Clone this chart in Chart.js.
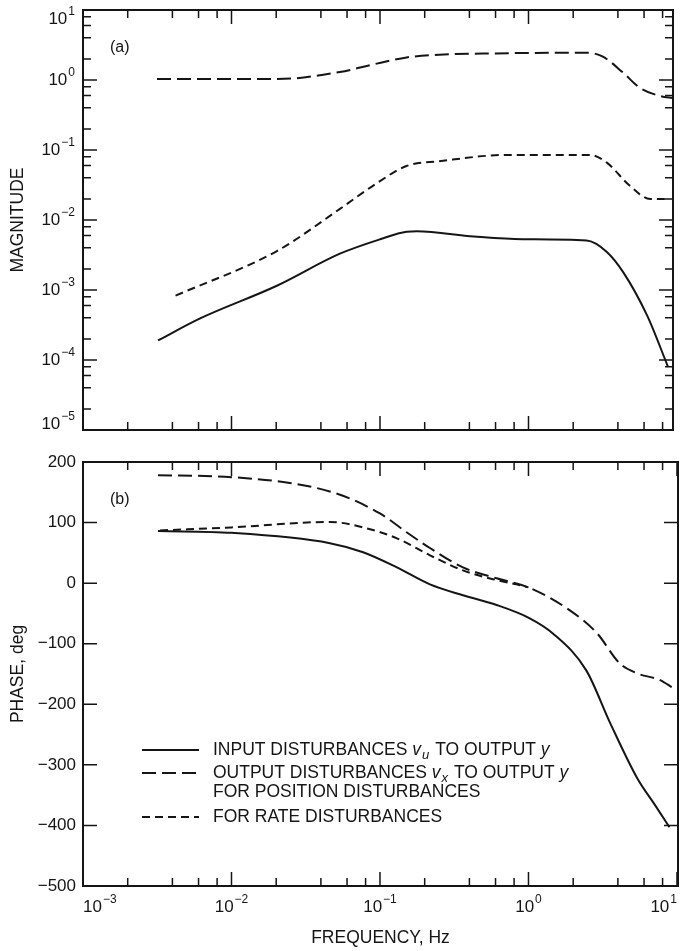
<!DOCTYPE html>
<html>
<head>
<meta charset="utf-8">
<script src="https://cdn.jsdelivr.net/npm/chart.js@4/dist/chart.umd.min.js"></script>
<style>
  body { margin: 0; background: #fff; }
  #wrap { position: relative; width: 681px; height: 951px; background: #fff; }
  #magBox { position: absolute; left: 0; top: 0; width: 681px; height: 440px; }
  #phaseBox { position: absolute; left: 0; top: 440px; width: 681px; height: 511px; }
</style>
</head>
<body>
<div id="wrap">
  <div id="magBox"><canvas id="magChart"></canvas></div>
  <div id="phaseBox"><canvas id="phaseChart"></canvas></div>
</div>
<script>
// axis ticks (decade labels are written as 10 with a raised exponent)
const freqDecades = [1e-3, 1e-2, 1e-1, 1, 10];
const freqExponents = ['\u22123', '\u22122', '\u22121', '0', '1'];
const magDecades = [1e-5, 1e-4, 1e-3, 1e-2, 1e-1, 1, 10];
const magExponents = ['\u22125', '\u22124', '\u22123', '\u22122', '\u22121', '0', '1'];
const minorSteps = [2, 4, 6, 8];
const phaseTicks = [-500, -400, -300, -200, -100, 0, 100, 200];

// (a) magnitude
const magFreqInput = [0.0032, 0.0061, 0.0202, 0.0537, 0.1, 0.151, 0.177, 0.43, 0.91, 2.46, 3.37, 4.34, 6.3, 8.7];
const magInput = [1.9e-4, 3.9e-4, 1.15e-3, 3.3e-3, 5.3e-3, 6.8e-3, 6.9e-3, 5.8e-3, 5.3e-3, 5.1e-3, 3.5e-3, 1.8e-3, 4.3e-4, 8e-5];

const magFreqPosition = [0.00315, 0.0202, 0.0537, 0.089, 0.151, 0.25, 0.6, 2.46, 3.17, 4.34, 5.6, 7.7, 9.4];
const magPosition = [1.03, 1.03, 1.3, 1.66, 2.1, 2.3, 2.4, 2.46, 2.15, 1.27, 0.78, 0.59, 0.55];

const magFreqRate = [0.0042, 0.0202, 0.0537, 0.089, 0.151, 0.25, 0.72, 2.6, 3.37, 4.8, 6.6, 8.9];
const magRate = [8.3e-4, 3.6e-3, 0.0144, 0.0305, 0.059, 0.069, 0.085, 0.085, 0.066, 0.031, 0.020, 0.020];

// (b) phase, deg
const phFreqInput = [0.0032, 0.01, 0.046, 0.077, 0.13, 0.217, 0.362, 0.61, 1.02, 1.46, 2.45, 3.55, 5.4, 7.1, 8.9];
const phInput = [86, 83, 66, 51, 26, -2, -20, -36, -58, -83, -144, -231, -322, -366, -403];

const phFreqPosition = [0.0032, 0.01, 0.048, 0.1, 0.151, 0.217, 0.362, 0.61, 1.02, 1.9, 2.9, 4.1, 5.4, 7.7, 9.4];
const phPosition = [178, 175, 150, 115, 84, 58, 26, 8, -8, -45, -83, -132, -149, -160, -173];

const phFreqRate = [0.0033, 0.01, 0.046, 0.077, 0.13, 0.217, 0.362, 0.61, 0.83, 1.0];
const phRate = [87, 92, 101, 92, 74, 46, 21, 5, -2, -7];

const ink = '#151515';
const family = '"Liberation Sans", Arial, Helvetica, sans-serif';
const longDash = [14, 6];
const shortDash = [8, 5];

const pts = (xs, ys) => xs.map((x, i) => ({ x: x, y: ys[i] }));

function logTicks(decades) {
  const out = [];
  decades.forEach((d, i) => {
    out.push({ value: d, major: true });
    if (i < decades.length - 1) minorSteps.forEach(m => out.push({ value: d * m, major: false }));
  });
  return out;
}

// box round the plot + inward ticks on all four sides
const frameTicks = {
  id: 'frameTicks',
  afterDatasetsDraw(chart) {
    const { ctx, chartArea: a, scales: { x, y } } = chart;
    ctx.save();
    ctx.strokeStyle = ink;
    ctx.lineWidth = 1.5;
    ctx.beginPath();
    x.ticks.forEach(t => {
      const px = x.getPixelForValue(t.value);
      if (px < a.left - 0.5 || px > a.right + 0.5) return;
      const len = t.major ? 14 : 8;
      ctx.moveTo(px, a.bottom); ctx.lineTo(px, a.bottom - len);
      ctx.moveTo(px, a.top); ctx.lineTo(px, a.top + len);
    });
    y.ticks.forEach(t => {
      const py = y.getPixelForValue(t.value);
      if (py < a.top - 0.5 || py > a.bottom + 0.5) return;
      const len = t.major === false ? 8 : 14;
      ctx.moveTo(a.left, py); ctx.lineTo(a.left + len, py);
      ctx.moveTo(a.right, py); ctx.lineTo(a.right - len, py);
    });
    ctx.stroke();
    ctx.lineWidth = 2;
    ctx.strokeRect(a.left, a.top, a.right - a.left, a.bottom - a.top);
    ctx.restore();
  }
};

// "10" + raised exponent at each decade of a log axis
const powerLabels = {
  id: 'powerLabels',
  afterDraw(chart, args, opts) {
    const { ctx, chartArea: a } = chart;
    ctx.save();
    ctx.fillStyle = ink;
    ctx.textBaseline = 'middle';
    (opts.axes || []).forEach(ax => {
      const scale = chart.scales[ax.id];
      ax.decades.forEach((d, i) => {
        const exp = ax.exps[i];
        ctx.font = '17px ' + family;
        const wBase = ctx.measureText('10').width;
        ctx.font = '12px ' + family;
        const wExp = ctx.measureText(exp).width + 1;
        const w = wBase + wExp;
        let left, cy;
        if (ax.id === 'y') {
          cy = scale.getPixelForValue(d);
          cy = Math.min(Math.max(cy, a.top + 9), a.bottom - 6);
          left = a.left - 8 - w;
        } else {
          const px = scale.getPixelForValue(d);
          cy = a.bottom + 21;
          if (i === 0) left = px;
          else if (i === ax.decades.length - 1) left = px - w;
          else left = px - w / 2;
        }
        ctx.textAlign = 'left';
        ctx.font = '17px ' + family;
        ctx.fillText('10', left, cy);
        ctx.font = '12px ' + family;
        ctx.fillText(exp, left + wBase + 1, cy - 7);
      });
    });
    ctx.restore();
  }
};

const panelTag = {
  id: 'panelTag',
  afterDraw(chart, args, opts) {
    const { ctx, chartArea: a } = chart;
    ctx.save();
    ctx.fillStyle = ink;
    ctx.font = '16px ' + family;
    ctx.textBaseline = 'middle';
    ctx.fillText(opts.text, a.left + 27, a.top + 38);
    ctx.restore();
  }
};

// legend rows: dataset index, text pieces (n = normal, i = italic, sub = italic subscript)
const legendRows = [
  { ds: 0, dy: 288, parts: [['INPUT DISTURBANCES ', 'n'], ['v', 'i'], ['u', 'sub'], [' TO OUTPUT ', 'n'], ['y', 'i']] },
  { ds: 1, dy: 311, parts: [['OUTPUT DISTURBANCES ', 'n'], ['v', 'i'], ['x', 'sub'], [' TO OUTPUT ', 'n'], ['y', 'i']] },
  { ds: -1, dy: 330, parts: [['FOR POSITION DISTURBANCES', 'n']] },
  { ds: 2, dy: 355, parts: [['FOR RATE DISTURBANCES', 'n']] }
];

const phaseLegend = {
  id: 'phaseLegend',
  afterDraw(chart) {
    const { ctx, chartArea: a } = chart;
    ctx.save();
    ctx.fillStyle = ink;
    ctx.strokeStyle = ink;
    ctx.textBaseline = 'middle';
    legendRows.forEach(row => {
      const y = a.top + row.dy;
      if (row.ds >= 0) {
        const ds = chart.data.datasets[row.ds];
        ctx.lineWidth = 2;
        ctx.setLineDash(ds.borderDash || []);
        ctx.beginPath();
        ctx.moveTo(a.left + 59, y);
        ctx.lineTo(a.left + 116, y);
        ctx.stroke();
        ctx.setLineDash([]);
      }
      let x = a.left + 130;
      row.parts.forEach(([txt, kind]) => {
        let dy = 0;
        if (kind === 'n') ctx.font = '17.5px ' + family;
        else if (kind === 'i') ctx.font = 'italic 17.5px ' + family;
        else { ctx.font = 'italic 13px ' + family; dy = 5; }
        ctx.fillText(txt, x, y + dy);
        x += ctx.measureText(txt).width + (kind === 'n' ? 0 : 1);
      });
    });
    ctx.restore();
  }
};

const tickFont = { family: family, size: 17 };
const titleFont = { family: family, size: 17.5 };

new Chart(document.getElementById('magChart'), {
  type: 'line',
  data: {
    datasets: [
      { label: 'Input disturbances', data: pts(magFreqInput, magInput), borderColor: ink },
      { label: 'Position disturbances', data: pts(magFreqPosition, magPosition), borderColor: ink, borderDash: longDash },
      { label: 'Rate disturbances', data: pts(magFreqRate, magRate), borderColor: ink, borderDash: shortDash }
    ]
  },
  options: {
    responsive: true,
    maintainAspectRatio: false,
    animation: false,
    layout: { padding: { top: 10, right: 8, bottom: 0, left: 0 } },
    elements: {
      point: { radius: 0 },
      line: { borderWidth: 2, tension: 0.4, cubicInterpolationMode: 'monotone', fill: false }
    },
    plugins: {
      legend: { display: false },
      tooltip: { enabled: false },
      panelTag: { text: '(a)' },
      powerLabels: { axes: [{ id: 'y', decades: magDecades, exps: magExponents }] }
    },
    scales: {
      x: {
        type: 'logarithmic',
        min: 1e-3,
        max: 9.4,
        afterBuildTicks: s => { s.ticks = logTicks(freqDecades); },
        ticks: { display: false, autoSkip: false },
        grid: { display: false, drawTicks: false },
        border: { display: false },
        afterFit: s => { s.height = 10; }
      },
      y: {
        type: 'logarithmic',
        min: 1e-5,
        max: 10,
        afterBuildTicks: s => { s.ticks = logTicks(magDecades); },
        ticks: { display: false, autoSkip: false },
        grid: { display: false, drawTicks: false },
        border: { display: false },
        title: { display: true, text: 'MAGNITUDE', color: ink, font: titleFont, padding: { top: 8, bottom: 0 } },
        afterFit: s => { s.width = 83; }
      }
    }
  },
  plugins: [frameTicks, panelTag, powerLabels]
});

new Chart(document.getElementById('phaseChart'), {
  type: 'line',
  data: {
    datasets: [
      { label: 'Input disturbances', data: pts(phFreqInput, phInput), borderColor: ink },
      { label: 'Position disturbances', data: pts(phFreqPosition, phPosition), borderColor: ink, borderDash: longDash },
      { label: 'Rate disturbances', data: pts(phFreqRate, phRate), borderColor: ink, borderDash: shortDash }
    ]
  },
  options: {
    responsive: true,
    maintainAspectRatio: false,
    animation: false,
    layout: { padding: { top: 22, right: 3, bottom: 0, left: 0 } },
    elements: {
      point: { radius: 0 },
      line: { borderWidth: 2, tension: 0.4, cubicInterpolationMode: 'monotone', fill: false }
    },
    plugins: {
      legend: { display: false },
      tooltip: { enabled: false },
      panelTag: { text: '(b)' },
      powerLabels: { axes: [{ id: 'x', decades: freqDecades, exps: freqExponents }] }
    },
    scales: {
      x: {
        type: 'logarithmic',
        min: 1e-3,
        max: 10.16,
        afterBuildTicks: s => { s.ticks = logTicks(freqDecades); },
        ticks: { display: false, autoSkip: false },
        grid: { display: false, drawTicks: false },
        border: { display: false },
        title: { display: true, text: 'FREQUENCY, Hz', color: ink, font: titleFont, padding: { top: 0, bottom: 2 } },
        afterFit: s => { s.height = 65; }
      },
      y: {
        type: 'linear',
        min: -500,
        max: 200,
        afterBuildTicks: s => { s.ticks = phaseTicks.map(v => ({ value: v })); },
        ticks: { autoSkip: false, padding: 7, color: ink, font: tickFont, callback: v => (v < 0 ? '\u2212' + Math.abs(v) : String(v)) },
        grid: { display: false, drawTicks: false },
        border: { display: false },
        title: { display: true, text: 'PHASE, deg', color: ink, font: titleFont, padding: { top: 8, bottom: 0 } },
        afterFit: s => { s.width = 83; }
      }
    }
  },
  plugins: [frameTicks, panelTag, powerLabels, phaseLegend]
});
</script>
</body>
</html>
